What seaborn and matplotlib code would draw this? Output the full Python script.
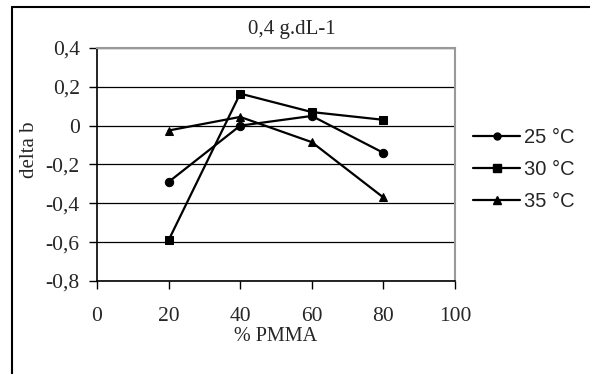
import pandas as pd
import matplotlib
matplotlib.use('Agg')
import matplotlib.pyplot as plt
from matplotlib.lines import Line2D
import seaborn as sns

# Data
pmma = [20, 40, 60, 80]
series_names = ['25 °C', '30 °C', '35 °C']
delta_25 = [-0.29, 0.0, 0.05, -0.14]
delta_30 = [-0.59, 0.165, 0.07, 0.03]
delta_35 = [-0.025, 0.045, -0.085, -0.37]
y_ticks = [-0.8, -0.6, -0.4, -0.2, 0, 0.2, 0.4]
x_ticks = [0, 20, 40, 60, 80, 100]

# Long-form table for seaborn
df = pd.DataFrame({
    'PMMA': pmma * 3,
    'delta': delta_25 + delta_30 + delta_35,
    'serie': [s for s in series_names for _ in pmma],
})

sns.set_style('white')
plt.rcParams['font.family'] = ['Liberation Serif', 'DejaVu Serif']

fig = plt.figure(figsize=(5.9, 3.74), dpi=100)
ax = fig.add_axes([0.1644, 0.2487, 0.6068, 0.623])

sns.lineplot(data=df, x='PMMA', y='delta', hue='serie', style='serie',
             palette=['black'] * 3, markers=['o', 's', '^'], dashes=False,
             markersize=6, linewidth=1.6, markeredgecolor='black',
             legend=False, ax=ax)

ax.set_xlim(0, 100)
ax.set_ylim(-0.8, 0.4)
ax.set_xticks(x_ticks)
ax.set_yticks(y_ticks)
ax.set_xticklabels([str(v) for v in x_ticks])
ax.set_yticklabels([('%.1f' % v).replace('.', ',') if v != 0 else '0' for v in y_ticks])
ax.tick_params(axis='both', direction='out', length=5.5, width=1, color='black',
               labelsize=15.5, bottom=True, left=True)
ax.tick_params(axis='x', pad=13)
ax.tick_params(axis='y', pad=7)
ax.yaxis.grid(True, color='black', linewidth=0.9)
ax.xaxis.grid(False)
ax.set_axisbelow(True)

for side in ['left', 'bottom']:
    ax.spines[side].set_color('black')
    ax.spines[side].set_linewidth(1.2)
for side in ['top', 'right']:
    ax.spines[side].set_color('#999999')
    ax.spines[side].set_linewidth(1.5)

ax.set_xlabel('% PMMA', fontsize=14.5, labelpad=1)
ax.set_ylabel('delta b', fontsize=15)
ax.yaxis.set_label_coords(-0.162, 0.562)
fig.text(0.494, 0.92, '0,4 g.dL-1', ha='center', va='center', fontsize=15)

# Legend to the right of the plot area
handles = [Line2D([], [], color='black', marker=m, markersize=ms, linewidth=1.6)
           for m, ms in zip(['o', 's', '^'], [5, 5.5, 5.5])]
fig.legend(handles, series_names, loc='center left', bbox_to_anchor=(0.8017, 0.547),
           frameon=False, handlelength=2.35, handletextpad=0.2, labelspacing=0.65,
           borderpad=0, borderaxespad=0,
           prop={'family': 'Liberation Sans', 'size': 14.5})

# Outer chart frame (left and top edges visible)
fig.add_artist(Line2D([0.0203, 0.0203], [0.0, 0.981], color='black', linewidth=1.5))
fig.add_artist(Line2D([0.0203, 1.0], [0.981, 0.981], color='black', linewidth=1.5))

fig.savefig('out.png', dpi=100)
